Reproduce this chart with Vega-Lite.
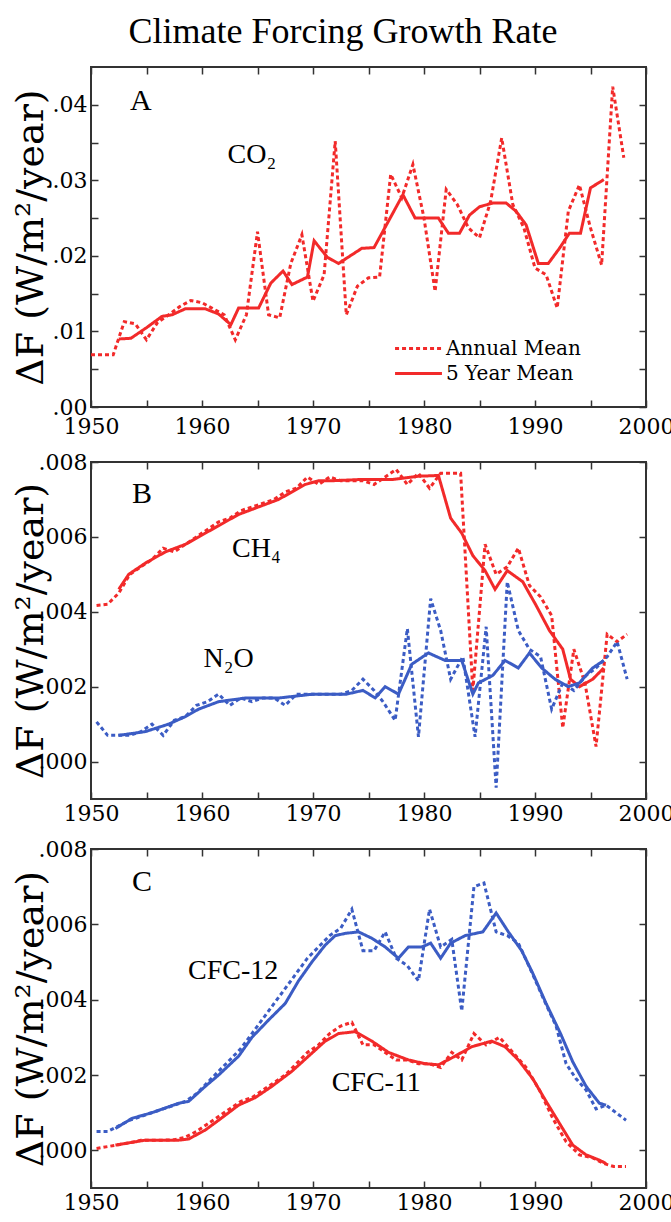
{
  "$schema": "https://vega.github.io/schema/vega-lite/v6.json",
  "background": "white",
  "padding": {"left": 11, "top": 14, "right": 0, "bottom": 0},
  "title": {"text": "Climate Forcing Growth Rate", "font": "Liberation Serif", "fontSize": 36, "fontWeight": "normal", "anchor": "middle", "frame": "bounds", "offset": 14, "color": "black"},
  "config": {
    "view": {"stroke": "#333333", "strokeWidth": 2},
    "axis": {"domain": false, "grid": false, "tickSize": -7, "tickColor": "#333333", "tickWidth": 1.5, "labelFontSize": 22, "labelColor": "black", "labelFlush": false, "labelOverlap": false, "titleFontSize": 38, "titleFontWeight": "normal", "titleColor": "black"},
    "concat": {"spacing": 12}
  },
  "datasets": {
    "series": [
      {"panel":"A","gas":"CO2","kind":"Annual Mean","year":1950,"value":0.0069},
      {"panel":"A","gas":"CO2","kind":"Annual Mean","year":1951,"value":0.0069},
      {"panel":"A","gas":"CO2","kind":"Annual Mean","year":1952,"value":0.0069},
      {"panel":"A","gas":"CO2","kind":"Annual Mean","year":1953,"value":0.0113},
      {"panel":"A","gas":"CO2","kind":"Annual Mean","year":1954,"value":0.0110},
      {"panel":"A","gas":"CO2","kind":"Annual Mean","year":1955,"value":0.0089},
      {"panel":"A","gas":"CO2","kind":"Annual Mean","year":1956,"value":0.0112},
      {"panel":"A","gas":"CO2","kind":"Annual Mean","year":1957,"value":0.0122},
      {"panel":"A","gas":"CO2","kind":"Annual Mean","year":1958,"value":0.0133},
      {"panel":"A","gas":"CO2","kind":"Annual Mean","year":1959,"value":0.0141},
      {"panel":"A","gas":"CO2","kind":"Annual Mean","year":1960,"value":0.0138},
      {"panel":"A","gas":"CO2","kind":"Annual Mean","year":1961,"value":0.0130},
      {"panel":"A","gas":"CO2","kind":"Annual Mean","year":1962,"value":0.0122},
      {"panel":"A","gas":"CO2","kind":"Annual Mean","year":1963,"value":0.0089},
      {"panel":"A","gas":"CO2","kind":"Annual Mean","year":1964,"value":0.0122},
      {"panel":"A","gas":"CO2","kind":"Annual Mean","year":1965,"value":0.0232},
      {"panel":"A","gas":"CO2","kind":"Annual Mean","year":1966,"value":0.0122},
      {"panel":"A","gas":"CO2","kind":"Annual Mean","year":1967,"value":0.0118},
      {"panel":"A","gas":"CO2","kind":"Annual Mean","year":1968,"value":0.0190},
      {"panel":"A","gas":"CO2","kind":"Annual Mean","year":1969,"value":0.0228},
      {"panel":"A","gas":"CO2","kind":"Annual Mean","year":1970,"value":0.0140},
      {"panel":"A","gas":"CO2","kind":"Annual Mean","year":1971,"value":0.0175},
      {"panel":"A","gas":"CO2","kind":"Annual Mean","year":1972,"value":0.0352},
      {"panel":"A","gas":"CO2","kind":"Annual Mean","year":1973,"value":0.0122},
      {"panel":"A","gas":"CO2","kind":"Annual Mean","year":1974,"value":0.0160},
      {"panel":"A","gas":"CO2","kind":"Annual Mean","year":1975,"value":0.0171},
      {"panel":"A","gas":"CO2","kind":"Annual Mean","year":1976,"value":0.0172},
      {"panel":"A","gas":"CO2","kind":"Annual Mean","year":1977,"value":0.0308},
      {"panel":"A","gas":"CO2","kind":"Annual Mean","year":1978,"value":0.0277},
      {"panel":"A","gas":"CO2","kind":"Annual Mean","year":1979,"value":0.0321},
      {"panel":"A","gas":"CO2","kind":"Annual Mean","year":1980,"value":0.0250},
      {"panel":"A","gas":"CO2","kind":"Annual Mean","year":1981,"value":0.0153},
      {"panel":"A","gas":"CO2","kind":"Annual Mean","year":1982,"value":0.0288},
      {"panel":"A","gas":"CO2","kind":"Annual Mean","year":1983,"value":0.0268},
      {"panel":"A","gas":"CO2","kind":"Annual Mean","year":1984,"value":0.0237},
      {"panel":"A","gas":"CO2","kind":"Annual Mean","year":1985,"value":0.0224},
      {"panel":"A","gas":"CO2","kind":"Annual Mean","year":1986,"value":0.0272},
      {"panel":"A","gas":"CO2","kind":"Annual Mean","year":1987,"value":0.0356},
      {"panel":"A","gas":"CO2","kind":"Annual Mean","year":1988,"value":0.0268},
      {"panel":"A","gas":"CO2","kind":"Annual Mean","year":1989,"value":0.0237},
      {"panel":"A","gas":"CO2","kind":"Annual Mean","year":1990,"value":0.0184},
      {"panel":"A","gas":"CO2","kind":"Annual Mean","year":1991,"value":0.0175},
      {"panel":"A","gas":"CO2","kind":"Annual Mean","year":1992,"value":0.0131},
      {"panel":"A","gas":"CO2","kind":"Annual Mean","year":1993,"value":0.0259},
      {"panel":"A","gas":"CO2","kind":"Annual Mean","year":1994,"value":0.0294},
      {"panel":"A","gas":"CO2","kind":"Annual Mean","year":1995,"value":0.0237},
      {"panel":"A","gas":"CO2","kind":"Annual Mean","year":1996,"value":0.0188},
      {"panel":"A","gas":"CO2","kind":"Annual Mean","year":1997,"value":0.0424},
      {"panel":"A","gas":"CO2","kind":"Annual Mean","year":1998,"value":0.0330},
      {"panel":"A","gas":"CO2","kind":"5 Year Mean","year":1952.5,"value":0.0090},
      {"panel":"A","gas":"CO2","kind":"5 Year Mean","year":1953.6,"value":0.0091},
      {"panel":"A","gas":"CO2","kind":"5 Year Mean","year":1955,"value":0.0105},
      {"panel":"A","gas":"CO2","kind":"5 Year Mean","year":1956.4,"value":0.0120},
      {"panel":"A","gas":"CO2","kind":"5 Year Mean","year":1957.3,"value":0.0122},
      {"panel":"A","gas":"CO2","kind":"5 Year Mean","year":1958.5,"value":0.0130},
      {"panel":"A","gas":"CO2","kind":"5 Year Mean","year":1960.3,"value":0.0130},
      {"panel":"A","gas":"CO2","kind":"5 Year Mean","year":1961.5,"value":0.0123},
      {"panel":"A","gas":"CO2","kind":"5 Year Mean","year":1962.6,"value":0.0109},
      {"panel":"A","gas":"CO2","kind":"5 Year Mean","year":1963.3,"value":0.0131},
      {"panel":"A","gas":"CO2","kind":"5 Year Mean","year":1965.1,"value":0.0131},
      {"panel":"A","gas":"CO2","kind":"5 Year Mean","year":1966.2,"value":0.0164},
      {"panel":"A","gas":"CO2","kind":"5 Year Mean","year":1967.3,"value":0.0180},
      {"panel":"A","gas":"CO2","kind":"5 Year Mean","year":1968.1,"value":0.0162},
      {"panel":"A","gas":"CO2","kind":"5 Year Mean","year":1969.5,"value":0.0172},
      {"panel":"A","gas":"CO2","kind":"5 Year Mean","year":1970.1,"value":0.0220},
      {"panel":"A","gas":"CO2","kind":"5 Year Mean","year":1971.3,"value":0.0198},
      {"panel":"A","gas":"CO2","kind":"5 Year Mean","year":1972.3,"value":0.0190},
      {"panel":"A","gas":"CO2","kind":"5 Year Mean","year":1974.4,"value":0.0210},
      {"panel":"A","gas":"CO2","kind":"5 Year Mean","year":1975.5,"value":0.0211},
      {"panel":"A","gas":"CO2","kind":"5 Year Mean","year":1978.1,"value":0.0281},
      {"panel":"A","gas":"CO2","kind":"5 Year Mean","year":1979.2,"value":0.0250},
      {"panel":"A","gas":"CO2","kind":"5 Year Mean","year":1981.3,"value":0.0250},
      {"panel":"A","gas":"CO2","kind":"5 Year Mean","year":1982.2,"value":0.0230},
      {"panel":"A","gas":"CO2","kind":"5 Year Mean","year":1983.2,"value":0.0230},
      {"panel":"A","gas":"CO2","kind":"5 Year Mean","year":1984.1,"value":0.0254},
      {"panel":"A","gas":"CO2","kind":"5 Year Mean","year":1985,"value":0.0265},
      {"panel":"A","gas":"CO2","kind":"5 Year Mean","year":1986.2,"value":0.0270},
      {"panel":"A","gas":"CO2","kind":"5 Year Mean","year":1987.4,"value":0.0270},
      {"panel":"A","gas":"CO2","kind":"5 Year Mean","year":1988.3,"value":0.0259},
      {"panel":"A","gas":"CO2","kind":"5 Year Mean","year":1989.2,"value":0.0241},
      {"panel":"A","gas":"CO2","kind":"5 Year Mean","year":1990.3,"value":0.0190},
      {"panel":"A","gas":"CO2","kind":"5 Year Mean","year":1991.2,"value":0.0190},
      {"panel":"A","gas":"CO2","kind":"5 Year Mean","year":1992.2,"value":0.0210},
      {"panel":"A","gas":"CO2","kind":"5 Year Mean","year":1993.1,"value":0.0230},
      {"panel":"A","gas":"CO2","kind":"5 Year Mean","year":1994.1,"value":0.0230},
      {"panel":"A","gas":"CO2","kind":"5 Year Mean","year":1995,"value":0.0290},
      {"panel":"A","gas":"CO2","kind":"5 Year Mean","year":1996.2,"value":0.0301},

      {"panel":"B","gas":"CH4","kind":"Annual Mean","year":1950.5,"value":0.00417},
      {"panel":"B","gas":"CH4","kind":"Annual Mean","year":1951.5,"value":0.0042},
      {"panel":"B","gas":"CH4","kind":"Annual Mean","year":1952.5,"value":0.0045},
      {"panel":"B","gas":"CH4","kind":"Annual Mean","year":1953.5,"value":0.0050},
      {"panel":"B","gas":"CH4","kind":"Annual Mean","year":1954.5,"value":0.0052},
      {"panel":"B","gas":"CH4","kind":"Annual Mean","year":1955.5,"value":0.0054},
      {"panel":"B","gas":"CH4","kind":"Annual Mean","year":1956.5,"value":0.0057},
      {"panel":"B","gas":"CH4","kind":"Annual Mean","year":1957.5,"value":0.0056},
      {"panel":"B","gas":"CH4","kind":"Annual Mean","year":1958.5,"value":0.0058},
      {"panel":"B","gas":"CH4","kind":"Annual Mean","year":1959.5,"value":0.0060},
      {"panel":"B","gas":"CH4","kind":"Annual Mean","year":1960.5,"value":0.0062},
      {"panel":"B","gas":"CH4","kind":"Annual Mean","year":1961.5,"value":0.0064},
      {"panel":"B","gas":"CH4","kind":"Annual Mean","year":1962.5,"value":0.0065},
      {"panel":"B","gas":"CH4","kind":"Annual Mean","year":1963.5,"value":0.0067},
      {"panel":"B","gas":"CH4","kind":"Annual Mean","year":1964.5,"value":0.0068},
      {"panel":"B","gas":"CH4","kind":"Annual Mean","year":1965.5,"value":0.0069},
      {"panel":"B","gas":"CH4","kind":"Annual Mean","year":1966.5,"value":0.0070},
      {"panel":"B","gas":"CH4","kind":"Annual Mean","year":1967.5,"value":0.0072},
      {"panel":"B","gas":"CH4","kind":"Annual Mean","year":1968.5,"value":0.0073},
      {"panel":"B","gas":"CH4","kind":"Annual Mean","year":1969.5,"value":0.0076},
      {"panel":"B","gas":"CH4","kind":"Annual Mean","year":1970.5,"value":0.0074},
      {"panel":"B","gas":"CH4","kind":"Annual Mean","year":1971.5,"value":0.0076},
      {"panel":"B","gas":"CH4","kind":"Annual Mean","year":1972.5,"value":0.0075},
      {"panel":"B","gas":"CH4","kind":"Annual Mean","year":1973.5,"value":0.0075},
      {"panel":"B","gas":"CH4","kind":"Annual Mean","year":1974.5,"value":0.0075},
      {"panel":"B","gas":"CH4","kind":"Annual Mean","year":1975.5,"value":0.0074},
      {"panel":"B","gas":"CH4","kind":"Annual Mean","year":1976.5,"value":0.0076},
      {"panel":"B","gas":"CH4","kind":"Annual Mean","year":1977.5,"value":0.0078},
      {"panel":"B","gas":"CH4","kind":"Annual Mean","year":1978.5,"value":0.0074},
      {"panel":"B","gas":"CH4","kind":"Annual Mean","year":1979.5,"value":0.0077},
      {"panel":"B","gas":"CH4","kind":"Annual Mean","year":1980.5,"value":0.0073},
      {"panel":"B","gas":"CH4","kind":"Annual Mean","year":1981.5,"value":0.0077},
      {"panel":"B","gas":"CH4","kind":"Annual Mean","year":1982.5,"value":0.0077},
      {"panel":"B","gas":"CH4","kind":"Annual Mean","year":1983.3,"value":0.0077},
      {"panel":"B","gas":"CH4","kind":"Annual Mean","year":1984.4,"value":0.0019},
      {"panel":"B","gas":"CH4","kind":"Annual Mean","year":1985.5,"value":0.0058},
      {"panel":"B","gas":"CH4","kind":"Annual Mean","year":1986.5,"value":0.0050},
      {"panel":"B","gas":"CH4","kind":"Annual Mean","year":1987.5,"value":0.0052},
      {"panel":"B","gas":"CH4","kind":"Annual Mean","year":1988.5,"value":0.0057},
      {"panel":"B","gas":"CH4","kind":"Annual Mean","year":1989.5,"value":0.0047},
      {"panel":"B","gas":"CH4","kind":"Annual Mean","year":1990.5,"value":0.0044},
      {"panel":"B","gas":"CH4","kind":"Annual Mean","year":1991.5,"value":0.0039},
      {"panel":"B","gas":"CH4","kind":"Annual Mean","year":1992.5,"value":0.0009},
      {"panel":"B","gas":"CH4","kind":"Annual Mean","year":1993.5,"value":0.0030},
      {"panel":"B","gas":"CH4","kind":"Annual Mean","year":1994.5,"value":0.0021},
      {"panel":"B","gas":"CH4","kind":"Annual Mean","year":1995.5,"value":0.0004},
      {"panel":"B","gas":"CH4","kind":"Annual Mean","year":1996.5,"value":0.0034},
      {"panel":"B","gas":"CH4","kind":"Annual Mean","year":1997.4,"value":0.0032},
      {"panel":"B","gas":"CH4","kind":"Annual Mean","year":1998.3,"value":0.0034},
      {"panel":"B","gas":"CH4","kind":"5 Year Mean","year":1952.5,"value":0.0046},
      {"panel":"B","gas":"CH4","kind":"5 Year Mean","year":1953.4,"value":0.0050},
      {"panel":"B","gas":"CH4","kind":"5 Year Mean","year":1954.9,"value":0.0053},
      {"panel":"B","gas":"CH4","kind":"5 Year Mean","year":1956.7,"value":0.0056},
      {"panel":"B","gas":"CH4","kind":"5 Year Mean","year":1958.5,"value":0.0058},
      {"panel":"B","gas":"CH4","kind":"5 Year Mean","year":1959.7,"value":0.0060},
      {"panel":"B","gas":"CH4","kind":"5 Year Mean","year":1961.5,"value":0.0063},
      {"panel":"B","gas":"CH4","kind":"5 Year Mean","year":1963.3,"value":0.0066},
      {"panel":"B","gas":"CH4","kind":"5 Year Mean","year":1965.1,"value":0.0068},
      {"panel":"B","gas":"CH4","kind":"5 Year Mean","year":1966.9,"value":0.0070},
      {"panel":"B","gas":"CH4","kind":"5 Year Mean","year":1968.1,"value":0.0072},
      {"panel":"B","gas":"CH4","kind":"5 Year Mean","year":1969.3,"value":0.0074},
      {"panel":"B","gas":"CH4","kind":"5 Year Mean","year":1970.5,"value":0.0075},
      {"panel":"B","gas":"CH4","kind":"5 Year Mean","year":1971.7,"value":0.0075},
      {"panel":"B","gas":"CH4","kind":"5 Year Mean","year":1974.1,"value":0.00753},
      {"panel":"B","gas":"CH4","kind":"5 Year Mean","year":1977.1,"value":0.00753},
      {"panel":"B","gas":"CH4","kind":"5 Year Mean","year":1979.5,"value":0.00762},
      {"panel":"B","gas":"CH4","kind":"5 Year Mean","year":1981.3,"value":0.00764},
      {"panel":"B","gas":"CH4","kind":"5 Year Mean","year":1982.4,"value":0.0065},
      {"panel":"B","gas":"CH4","kind":"5 Year Mean","year":1983.4,"value":0.0061},
      {"panel":"B","gas":"CH4","kind":"5 Year Mean","year":1984.4,"value":0.0055},
      {"panel":"B","gas":"CH4","kind":"5 Year Mean","year":1985.5,"value":0.0051},
      {"panel":"B","gas":"CH4","kind":"5 Year Mean","year":1986.4,"value":0.0046},
      {"panel":"B","gas":"CH4","kind":"5 Year Mean","year":1987.5,"value":0.0051},
      {"panel":"B","gas":"CH4","kind":"5 Year Mean","year":1988.9,"value":0.0048},
      {"panel":"B","gas":"CH4","kind":"5 Year Mean","year":1990.1,"value":0.00417},
      {"panel":"B","gas":"CH4","kind":"5 Year Mean","year":1991.3,"value":0.0035},
      {"panel":"B","gas":"CH4","kind":"5 Year Mean","year":1992.5,"value":0.0030},
      {"panel":"B","gas":"CH4","kind":"5 Year Mean","year":1993.2,"value":0.0022},
      {"panel":"B","gas":"CH4","kind":"5 Year Mean","year":1994.0,"value":0.0020},
      {"panel":"B","gas":"CH4","kind":"5 Year Mean","year":1995.2,"value":0.0022},
      {"panel":"B","gas":"CH4","kind":"5 Year Mean","year":1996.2,"value":0.0025},

      {"panel":"B","gas":"N2O","kind":"Annual Mean","year":1950.5,"value":0.00106},
      {"panel":"B","gas":"N2O","kind":"Annual Mean","year":1951.5,"value":0.0007},
      {"panel":"B","gas":"N2O","kind":"Annual Mean","year":1952.5,"value":0.0007},
      {"panel":"B","gas":"N2O","kind":"Annual Mean","year":1953.5,"value":0.0007},
      {"panel":"B","gas":"N2O","kind":"Annual Mean","year":1954.5,"value":0.0008},
      {"panel":"B","gas":"N2O","kind":"Annual Mean","year":1955.5,"value":0.0010},
      {"panel":"B","gas":"N2O","kind":"Annual Mean","year":1956.5,"value":0.0007},
      {"panel":"B","gas":"N2O","kind":"Annual Mean","year":1957.5,"value":0.0011},
      {"panel":"B","gas":"N2O","kind":"Annual Mean","year":1958.5,"value":0.0012},
      {"panel":"B","gas":"N2O","kind":"Annual Mean","year":1959.5,"value":0.0015},
      {"panel":"B","gas":"N2O","kind":"Annual Mean","year":1960.5,"value":0.0016},
      {"panel":"B","gas":"N2O","kind":"Annual Mean","year":1961.5,"value":0.0018},
      {"panel":"B","gas":"N2O","kind":"Annual Mean","year":1962.5,"value":0.0015},
      {"panel":"B","gas":"N2O","kind":"Annual Mean","year":1963.5,"value":0.0017},
      {"panel":"B","gas":"N2O","kind":"Annual Mean","year":1964.5,"value":0.0016},
      {"panel":"B","gas":"N2O","kind":"Annual Mean","year":1965.5,"value":0.0017},
      {"panel":"B","gas":"N2O","kind":"Annual Mean","year":1966.5,"value":0.0017},
      {"panel":"B","gas":"N2O","kind":"Annual Mean","year":1967.5,"value":0.0015},
      {"panel":"B","gas":"N2O","kind":"Annual Mean","year":1968.5,"value":0.0018},
      {"panel":"B","gas":"N2O","kind":"Annual Mean","year":1969.5,"value":0.0018},
      {"panel":"B","gas":"N2O","kind":"Annual Mean","year":1970.5,"value":0.0018},
      {"panel":"B","gas":"N2O","kind":"Annual Mean","year":1971.5,"value":0.0018},
      {"panel":"B","gas":"N2O","kind":"Annual Mean","year":1972.5,"value":0.0018},
      {"panel":"B","gas":"N2O","kind":"Annual Mean","year":1973.5,"value":0.0019},
      {"panel":"B","gas":"N2O","kind":"Annual Mean","year":1974.5,"value":0.0022},
      {"panel":"B","gas":"N2O","kind":"Annual Mean","year":1975.5,"value":0.0019},
      {"panel":"B","gas":"N2O","kind":"Annual Mean","year":1976.3,"value":0.0016},
      {"panel":"B","gas":"N2O","kind":"Annual Mean","year":1977.4,"value":0.0011},
      {"panel":"B","gas":"N2O","kind":"Annual Mean","year":1978.5,"value":0.00355},
      {"panel":"B","gas":"N2O","kind":"Annual Mean","year":1979.5,"value":0.00066},
      {"panel":"B","gas":"N2O","kind":"Annual Mean","year":1980.6,"value":0.00435},
      {"panel":"B","gas":"N2O","kind":"Annual Mean","year":1981.5,"value":0.0035},
      {"panel":"B","gas":"N2O","kind":"Annual Mean","year":1982.4,"value":0.0022},
      {"panel":"B","gas":"N2O","kind":"Annual Mean","year":1983.5,"value":0.0028},
      {"panel":"B","gas":"N2O","kind":"Annual Mean","year":1984.6,"value":0.00066},
      {"panel":"B","gas":"N2O","kind":"Annual Mean","year":1985.6,"value":0.0036},
      {"panel":"B","gas":"N2O","kind":"Annual Mean","year":1986.5,"value":-0.0007},
      {"panel":"B","gas":"N2O","kind":"Annual Mean","year":1987.5,"value":0.0048},
      {"panel":"B","gas":"N2O","kind":"Annual Mean","year":1988.5,"value":0.0035},
      {"panel":"B","gas":"N2O","kind":"Annual Mean","year":1989.5,"value":0.0030},
      {"panel":"B","gas":"N2O","kind":"Annual Mean","year":1990.5,"value":0.0028},
      {"panel":"B","gas":"N2O","kind":"Annual Mean","year":1991.5,"value":0.0014},
      {"panel":"B","gas":"N2O","kind":"Annual Mean","year":1992.5,"value":0.0021},
      {"panel":"B","gas":"N2O","kind":"Annual Mean","year":1993.5,"value":0.0019},
      {"panel":"B","gas":"N2O","kind":"Annual Mean","year":1994.6,"value":0.0023},
      {"panel":"B","gas":"N2O","kind":"Annual Mean","year":1995.5,"value":0.0025},
      {"panel":"B","gas":"N2O","kind":"Annual Mean","year":1996.5,"value":0.0028},
      {"panel":"B","gas":"N2O","kind":"Annual Mean","year":1997.4,"value":0.0032},
      {"panel":"B","gas":"N2O","kind":"Annual Mean","year":1998.3,"value":0.0022},
      {"panel":"B","gas":"N2O","kind":"5 Year Mean","year":1952.5,"value":0.0007},
      {"panel":"B","gas":"N2O","kind":"5 Year Mean","year":1954.9,"value":0.0008},
      {"panel":"B","gas":"N2O","kind":"5 Year Mean","year":1957.0,"value":0.0010},
      {"panel":"B","gas":"N2O","kind":"5 Year Mean","year":1958.5,"value":0.0012},
      {"panel":"B","gas":"N2O","kind":"5 Year Mean","year":1959.7,"value":0.0014},
      {"panel":"B","gas":"N2O","kind":"5 Year Mean","year":1961.5,"value":0.0016},
      {"panel":"B","gas":"N2O","kind":"5 Year Mean","year":1964.0,"value":0.0017},
      {"panel":"B","gas":"N2O","kind":"5 Year Mean","year":1967.0,"value":0.0017},
      {"panel":"B","gas":"N2O","kind":"5 Year Mean","year":1970.0,"value":0.0018},
      {"panel":"B","gas":"N2O","kind":"5 Year Mean","year":1973.0,"value":0.0018},
      {"panel":"B","gas":"N2O","kind":"5 Year Mean","year":1974.5,"value":0.0019},
      {"panel":"B","gas":"N2O","kind":"5 Year Mean","year":1975.6,"value":0.0017},
      {"panel":"B","gas":"N2O","kind":"5 Year Mean","year":1976.5,"value":0.0020},
      {"panel":"B","gas":"N2O","kind":"5 Year Mean","year":1977.7,"value":0.0018},
      {"panel":"B","gas":"N2O","kind":"5 Year Mean","year":1978.9,"value":0.0026},
      {"panel":"B","gas":"N2O","kind":"5 Year Mean","year":1980.4,"value":0.0029},
      {"panel":"B","gas":"N2O","kind":"5 Year Mean","year":1981.9,"value":0.0027},
      {"panel":"B","gas":"N2O","kind":"5 Year Mean","year":1983.4,"value":0.0027},
      {"panel":"B","gas":"N2O","kind":"5 Year Mean","year":1984.4,"value":0.0018},
      {"panel":"B","gas":"N2O","kind":"5 Year Mean","year":1984.9,"value":0.0021},
      {"panel":"B","gas":"N2O","kind":"5 Year Mean","year":1986.2,"value":0.0023},
      {"panel":"B","gas":"N2O","kind":"5 Year Mean","year":1987.3,"value":0.0027},
      {"panel":"B","gas":"N2O","kind":"5 Year Mean","year":1988.5,"value":0.0025},
      {"panel":"B","gas":"N2O","kind":"5 Year Mean","year":1989.5,"value":0.0029},
      {"panel":"B","gas":"N2O","kind":"5 Year Mean","year":1990.6,"value":0.0025},
      {"panel":"B","gas":"N2O","kind":"5 Year Mean","year":1991.8,"value":0.0022},
      {"panel":"B","gas":"N2O","kind":"5 Year Mean","year":1993.0,"value":0.0020},
      {"panel":"B","gas":"N2O","kind":"5 Year Mean","year":1994.0,"value":0.0021},
      {"panel":"B","gas":"N2O","kind":"5 Year Mean","year":1995.2,"value":0.0025},
      {"panel":"B","gas":"N2O","kind":"5 Year Mean","year":1996.2,"value":0.0027},

      {"panel":"C","gas":"CFC-12","kind":"Annual Mean","year":1950.5,"value":0.0005},
      {"panel":"C","gas":"CFC-12","kind":"Annual Mean","year":1951.5,"value":0.0005},
      {"panel":"C","gas":"CFC-12","kind":"Annual Mean","year":1952.5,"value":0.00065},
      {"panel":"C","gas":"CFC-12","kind":"Annual Mean","year":1953.5,"value":0.0008},
      {"panel":"C","gas":"CFC-12","kind":"Annual Mean","year":1954.5,"value":0.0009},
      {"panel":"C","gas":"CFC-12","kind":"Annual Mean","year":1955.5,"value":0.0010},
      {"panel":"C","gas":"CFC-12","kind":"Annual Mean","year":1956.5,"value":0.0011},
      {"panel":"C","gas":"CFC-12","kind":"Annual Mean","year":1957.5,"value":0.0012},
      {"panel":"C","gas":"CFC-12","kind":"Annual Mean","year":1958.5,"value":0.0013},
      {"panel":"C","gas":"CFC-12","kind":"Annual Mean","year":1959.5,"value":0.0015},
      {"panel":"C","gas":"CFC-12","kind":"Annual Mean","year":1960.5,"value":0.0018},
      {"panel":"C","gas":"CFC-12","kind":"Annual Mean","year":1961.5,"value":0.0021},
      {"panel":"C","gas":"CFC-12","kind":"Annual Mean","year":1962.5,"value":0.0024},
      {"panel":"C","gas":"CFC-12","kind":"Annual Mean","year":1963.5,"value":0.0027},
      {"panel":"C","gas":"CFC-12","kind":"Annual Mean","year":1964.5,"value":0.0031},
      {"panel":"C","gas":"CFC-12","kind":"Annual Mean","year":1965.5,"value":0.0035},
      {"panel":"C","gas":"CFC-12","kind":"Annual Mean","year":1966.5,"value":0.0039},
      {"panel":"C","gas":"CFC-12","kind":"Annual Mean","year":1967.5,"value":0.0043},
      {"panel":"C","gas":"CFC-12","kind":"Annual Mean","year":1968.5,"value":0.0047},
      {"panel":"C","gas":"CFC-12","kind":"Annual Mean","year":1969.5,"value":0.0051},
      {"panel":"C","gas":"CFC-12","kind":"Annual Mean","year":1970.5,"value":0.0054},
      {"panel":"C","gas":"CFC-12","kind":"Annual Mean","year":1971.5,"value":0.0057},
      {"panel":"C","gas":"CFC-12","kind":"Annual Mean","year":1972.5,"value":0.0059},
      {"panel":"C","gas":"CFC-12","kind":"Annual Mean","year":1973.5,"value":0.0064},
      {"panel":"C","gas":"CFC-12","kind":"Annual Mean","year":1974.5,"value":0.0053},
      {"panel":"C","gas":"CFC-12","kind":"Annual Mean","year":1975.5,"value":0.0053},
      {"panel":"C","gas":"CFC-12","kind":"Annual Mean","year":1976.5,"value":0.0058},
      {"panel":"C","gas":"CFC-12","kind":"Annual Mean","year":1977.5,"value":0.0051},
      {"panel":"C","gas":"CFC-12","kind":"Annual Mean","year":1978.5,"value":0.0049},
      {"panel":"C","gas":"CFC-12","kind":"Annual Mean","year":1979.5,"value":0.0045},
      {"panel":"C","gas":"CFC-12","kind":"Annual Mean","year":1980.5,"value":0.0064},
      {"panel":"C","gas":"CFC-12","kind":"Annual Mean","year":1981.5,"value":0.0054},
      {"panel":"C","gas":"CFC-12","kind":"Annual Mean","year":1982.5,"value":0.0056},
      {"panel":"C","gas":"CFC-12","kind":"Annual Mean","year":1983.4,"value":0.0037},
      {"panel":"C","gas":"CFC-12","kind":"Annual Mean","year":1984.5,"value":0.0070},
      {"panel":"C","gas":"CFC-12","kind":"Annual Mean","year":1985.4,"value":0.0071},
      {"panel":"C","gas":"CFC-12","kind":"Annual Mean","year":1986.5,"value":0.0058},
      {"panel":"C","gas":"CFC-12","kind":"Annual Mean","year":1987.5,"value":0.0057},
      {"panel":"C","gas":"CFC-12","kind":"Annual Mean","year":1988.5,"value":0.0055},
      {"panel":"C","gas":"CFC-12","kind":"Annual Mean","year":1989.6,"value":0.0048},
      {"panel":"C","gas":"CFC-12","kind":"Annual Mean","year":1990.8,"value":0.0040},
      {"panel":"C","gas":"CFC-12","kind":"Annual Mean","year":1991.9,"value":0.0033},
      {"panel":"C","gas":"CFC-12","kind":"Annual Mean","year":1992.8,"value":0.0023},
      {"panel":"C","gas":"CFC-12","kind":"Annual Mean","year":1993.7,"value":0.0019},
      {"panel":"C","gas":"CFC-12","kind":"Annual Mean","year":1994.6,"value":0.0016},
      {"panel":"C","gas":"CFC-12","kind":"Annual Mean","year":1995.5,"value":0.0011},
      {"panel":"C","gas":"CFC-12","kind":"Annual Mean","year":1996.4,"value":0.0012},
      {"panel":"C","gas":"CFC-12","kind":"Annual Mean","year":1997.3,"value":0.0010},
      {"panel":"C","gas":"CFC-12","kind":"Annual Mean","year":1998.2,"value":0.0008},
      {"panel":"C","gas":"CFC-12","kind":"5 Year Mean","year":1952.2,"value":0.00058},
      {"panel":"C","gas":"CFC-12","kind":"5 Year Mean","year":1953.7,"value":0.00085},
      {"panel":"C","gas":"CFC-12","kind":"5 Year Mean","year":1955.5,"value":0.0010},
      {"panel":"C","gas":"CFC-12","kind":"5 Year Mean","year":1957.9,"value":0.00125},
      {"panel":"C","gas":"CFC-12","kind":"5 Year Mean","year":1958.8,"value":0.0013},
      {"panel":"C","gas":"CFC-12","kind":"5 Year Mean","year":1960.3,"value":0.0017},
      {"panel":"C","gas":"CFC-12","kind":"5 Year Mean","year":1961.5,"value":0.0020},
      {"panel":"C","gas":"CFC-12","kind":"5 Year Mean","year":1963.3,"value":0.0025},
      {"panel":"C","gas":"CFC-12","kind":"5 Year Mean","year":1964.5,"value":0.0030},
      {"panel":"C","gas":"CFC-12","kind":"5 Year Mean","year":1966.0,"value":0.00346},
      {"panel":"C","gas":"CFC-12","kind":"5 Year Mean","year":1967.5,"value":0.0039},
      {"panel":"C","gas":"CFC-12","kind":"5 Year Mean","year":1968.7,"value":0.0045},
      {"panel":"C","gas":"CFC-12","kind":"5 Year Mean","year":1969.9,"value":0.0050},
      {"panel":"C","gas":"CFC-12","kind":"5 Year Mean","year":1971.1,"value":0.00545},
      {"panel":"C","gas":"CFC-12","kind":"5 Year Mean","year":1972.0,"value":0.0057},
      {"panel":"C","gas":"CFC-12","kind":"5 Year Mean","year":1972.9,"value":0.00576},
      {"panel":"C","gas":"CFC-12","kind":"5 Year Mean","year":1974.1,"value":0.0058},
      {"panel":"C","gas":"CFC-12","kind":"5 Year Mean","year":1975.3,"value":0.00563},
      {"panel":"C","gas":"CFC-12","kind":"5 Year Mean","year":1976.5,"value":0.0054},
      {"panel":"C","gas":"CFC-12","kind":"5 Year Mean","year":1977.7,"value":0.0051},
      {"panel":"C","gas":"CFC-12","kind":"5 Year Mean","year":1978.6,"value":0.0054},
      {"panel":"C","gas":"CFC-12","kind":"5 Year Mean","year":1979.8,"value":0.0054},
      {"panel":"C","gas":"CFC-12","kind":"5 Year Mean","year":1980.6,"value":0.0055},
      {"panel":"C","gas":"CFC-12","kind":"5 Year Mean","year":1981.5,"value":0.0051},
      {"panel":"C","gas":"CFC-12","kind":"5 Year Mean","year":1982.4,"value":0.0055},
      {"panel":"C","gas":"CFC-12","kind":"5 Year Mean","year":1983.7,"value":0.0057},
      {"panel":"C","gas":"CFC-12","kind":"5 Year Mean","year":1985.3,"value":0.0058},
      {"panel":"C","gas":"CFC-12","kind":"5 Year Mean","year":1986.5,"value":0.0063},
      {"panel":"C","gas":"CFC-12","kind":"5 Year Mean","year":1987.6,"value":0.0058},
      {"panel":"C","gas":"CFC-12","kind":"5 Year Mean","year":1988.8,"value":0.0053},
      {"panel":"C","gas":"CFC-12","kind":"5 Year Mean","year":1989.8,"value":0.0047},
      {"panel":"C","gas":"CFC-12","kind":"5 Year Mean","year":1991.0,"value":0.0039},
      {"panel":"C","gas":"CFC-12","kind":"5 Year Mean","year":1992.3,"value":0.0031},
      {"panel":"C","gas":"CFC-12","kind":"5 Year Mean","year":1993.4,"value":0.00235},
      {"panel":"C","gas":"CFC-12","kind":"5 Year Mean","year":1994.6,"value":0.0017},
      {"panel":"C","gas":"CFC-12","kind":"5 Year Mean","year":1995.8,"value":0.00125},
      {"panel":"C","gas":"CFC-12","kind":"5 Year Mean","year":1996.4,"value":0.0012},

      {"panel":"C","gas":"CFC-11","kind":"Annual Mean","year":1950.5,"value":0.00005},
      {"panel":"C","gas":"CFC-11","kind":"Annual Mean","year":1951.5,"value":0.0001},
      {"panel":"C","gas":"CFC-11","kind":"Annual Mean","year":1952.5,"value":0.00015},
      {"panel":"C","gas":"CFC-11","kind":"Annual Mean","year":1953.5,"value":0.0002},
      {"panel":"C","gas":"CFC-11","kind":"Annual Mean","year":1954.5,"value":0.00027},
      {"panel":"C","gas":"CFC-11","kind":"Annual Mean","year":1955.5,"value":0.00027},
      {"panel":"C","gas":"CFC-11","kind":"Annual Mean","year":1956.5,"value":0.00027},
      {"panel":"C","gas":"CFC-11","kind":"Annual Mean","year":1957.5,"value":0.00028},
      {"panel":"C","gas":"CFC-11","kind":"Annual Mean","year":1958.5,"value":0.00035},
      {"panel":"C","gas":"CFC-11","kind":"Annual Mean","year":1959.5,"value":0.0005},
      {"panel":"C","gas":"CFC-11","kind":"Annual Mean","year":1960.5,"value":0.0007},
      {"panel":"C","gas":"CFC-11","kind":"Annual Mean","year":1961.5,"value":0.0009},
      {"panel":"C","gas":"CFC-11","kind":"Annual Mean","year":1962.5,"value":0.0011},
      {"panel":"C","gas":"CFC-11","kind":"Annual Mean","year":1963.5,"value":0.0013},
      {"panel":"C","gas":"CFC-11","kind":"Annual Mean","year":1964.5,"value":0.0014},
      {"panel":"C","gas":"CFC-11","kind":"Annual Mean","year":1965.5,"value":0.0016},
      {"panel":"C","gas":"CFC-11","kind":"Annual Mean","year":1966.5,"value":0.0018},
      {"panel":"C","gas":"CFC-11","kind":"Annual Mean","year":1967.5,"value":0.0020},
      {"panel":"C","gas":"CFC-11","kind":"Annual Mean","year":1968.5,"value":0.0023},
      {"panel":"C","gas":"CFC-11","kind":"Annual Mean","year":1969.5,"value":0.0026},
      {"panel":"C","gas":"CFC-11","kind":"Annual Mean","year":1970.5,"value":0.0028},
      {"panel":"C","gas":"CFC-11","kind":"Annual Mean","year":1971.5,"value":0.0031},
      {"panel":"C","gas":"CFC-11","kind":"Annual Mean","year":1972.5,"value":0.0033},
      {"panel":"C","gas":"CFC-11","kind":"Annual Mean","year":1973.5,"value":0.0034},
      {"panel":"C","gas":"CFC-11","kind":"Annual Mean","year":1974.5,"value":0.0028},
      {"panel":"C","gas":"CFC-11","kind":"Annual Mean","year":1975.5,"value":0.0028},
      {"panel":"C","gas":"CFC-11","kind":"Annual Mean","year":1976.5,"value":0.0026},
      {"panel":"C","gas":"CFC-11","kind":"Annual Mean","year":1977.5,"value":0.0024},
      {"panel":"C","gas":"CFC-11","kind":"Annual Mean","year":1978.5,"value":0.0024},
      {"panel":"C","gas":"CFC-11","kind":"Annual Mean","year":1979.5,"value":0.0023},
      {"panel":"C","gas":"CFC-11","kind":"Annual Mean","year":1980.5,"value":0.0023},
      {"panel":"C","gas":"CFC-11","kind":"Annual Mean","year":1981.5,"value":0.0022},
      {"panel":"C","gas":"CFC-11","kind":"Annual Mean","year":1982.5,"value":0.0026},
      {"panel":"C","gas":"CFC-11","kind":"Annual Mean","year":1983.4,"value":0.0024},
      {"panel":"C","gas":"CFC-11","kind":"Annual Mean","year":1984.5,"value":0.0031},
      {"panel":"C","gas":"CFC-11","kind":"Annual Mean","year":1985.6,"value":0.0028},
      {"panel":"C","gas":"CFC-11","kind":"Annual Mean","year":1986.8,"value":0.0030},
      {"panel":"C","gas":"CFC-11","kind":"Annual Mean","year":1988.0,"value":0.0026},
      {"panel":"C","gas":"CFC-11","kind":"Annual Mean","year":1989.2,"value":0.0022},
      {"panel":"C","gas":"CFC-11","kind":"Annual Mean","year":1990.4,"value":0.0016},
      {"panel":"C","gas":"CFC-11","kind":"Annual Mean","year":1991.6,"value":0.00085},
      {"panel":"C","gas":"CFC-11","kind":"Annual Mean","year":1992.8,"value":0.00023},
      {"panel":"C","gas":"CFC-11","kind":"Annual Mean","year":1994.0,"value":-0.00012},
      {"panel":"C","gas":"CFC-11","kind":"Annual Mean","year":1995.2,"value":-0.0002},
      {"panel":"C","gas":"CFC-11","kind":"Annual Mean","year":1996.2,"value":-0.00035},
      {"panel":"C","gas":"CFC-11","kind":"Annual Mean","year":1997.1,"value":-0.00043},
      {"panel":"C","gas":"CFC-11","kind":"Annual Mean","year":1998.2,"value":-0.00043},
      {"panel":"C","gas":"CFC-11","kind":"5 Year Mean","year":1952.2,"value":0.00014},
      {"panel":"C","gas":"CFC-11","kind":"5 Year Mean","year":1954.9,"value":0.00027},
      {"panel":"C","gas":"CFC-11","kind":"5 Year Mean","year":1957.9,"value":0.00027},
      {"panel":"C","gas":"CFC-11","kind":"5 Year Mean","year":1958.8,"value":0.0003},
      {"panel":"C","gas":"CFC-11","kind":"5 Year Mean","year":1960.3,"value":0.00054},
      {"panel":"C","gas":"CFC-11","kind":"5 Year Mean","year":1961.5,"value":0.0008},
      {"panel":"C","gas":"CFC-11","kind":"5 Year Mean","year":1963.3,"value":0.0012},
      {"panel":"C","gas":"CFC-11","kind":"5 Year Mean","year":1964.8,"value":0.0014},
      {"panel":"C","gas":"CFC-11","kind":"5 Year Mean","year":1966.3,"value":0.0017},
      {"panel":"C","gas":"CFC-11","kind":"5 Year Mean","year":1968.1,"value":0.0021},
      {"panel":"C","gas":"CFC-11","kind":"5 Year Mean","year":1969.6,"value":0.0025},
      {"panel":"C","gas":"CFC-11","kind":"5 Year Mean","year":1971.1,"value":0.0029},
      {"panel":"C","gas":"CFC-11","kind":"5 Year Mean","year":1972.3,"value":0.0031},
      {"panel":"C","gas":"CFC-11","kind":"5 Year Mean","year":1973.8,"value":0.00315},
      {"panel":"C","gas":"CFC-11","kind":"5 Year Mean","year":1975.3,"value":0.0029},
      {"panel":"C","gas":"CFC-11","kind":"5 Year Mean","year":1976.8,"value":0.0026},
      {"panel":"C","gas":"CFC-11","kind":"5 Year Mean","year":1978.6,"value":0.0024},
      {"panel":"C","gas":"CFC-11","kind":"5 Year Mean","year":1980.1,"value":0.0023},
      {"panel":"C","gas":"CFC-11","kind":"5 Year Mean","year":1981.3,"value":0.00227},
      {"panel":"C","gas":"CFC-11","kind":"5 Year Mean","year":1982.8,"value":0.0025},
      {"panel":"C","gas":"CFC-11","kind":"5 Year Mean","year":1984.3,"value":0.00275},
      {"panel":"C","gas":"CFC-11","kind":"5 Year Mean","year":1986.1,"value":0.0029},
      {"panel":"C","gas":"CFC-11","kind":"5 Year Mean","year":1987.3,"value":0.00275},
      {"panel":"C","gas":"CFC-11","kind":"5 Year Mean","year":1988.5,"value":0.0024},
      {"panel":"C","gas":"CFC-11","kind":"5 Year Mean","year":1989.8,"value":0.0019},
      {"panel":"C","gas":"CFC-11","kind":"5 Year Mean","year":1991.0,"value":0.0013},
      {"panel":"C","gas":"CFC-11","kind":"5 Year Mean","year":1992.3,"value":0.00067},
      {"panel":"C","gas":"CFC-11","kind":"5 Year Mean","year":1993.4,"value":0.00014},
      {"panel":"C","gas":"CFC-11","kind":"5 Year Mean","year":1994.6,"value":-0.00012},
      {"panel":"C","gas":"CFC-11","kind":"5 Year Mean","year":1995.8,"value":-0.00026},
      {"panel":"C","gas":"CFC-11","kind":"5 Year Mean","year":1996.4,"value":-0.00035}
    ],
    "notes": [
      {"panel":"A","type":"letter","label":"A","year":1954.5,"value":0.0405},
      {"panel":"A","type":"gas","label":"CO₂","year":1964.5,"value":0.0334},
      {"panel":"B","type":"letter","label":"B","year":1954.6,"value":0.00715},
      {"panel":"B","type":"gas","label":"CH₄","year":1964.9,"value":0.00568},
      {"panel":"B","type":"gas","label":"N₂O","year":1962.4,"value":0.00275},
      {"panel":"C","type":"letter","label":"C","year":1954.6,"value":0.00713},
      {"panel":"C","type":"gas","label":"CFC-12","year":1962.8,"value":0.00477},
      {"panel":"C","type":"gas","label":"CFC-11","year":1975.7,"value":0.00178}
    ]
  },
  "resolve": {"scale": {"y": "independent", "color": "independent", "strokeDash": "independent"}, "legend": {"strokeDash": "independent", "color": "independent"}},
  "vconcat": [
    {
      "width": 555, "height": 340,
      "layer": [
        {
          "data": {"name": "series"},
          "transform": [{"filter": "datum.panel === 'A'"}],
          "mark": {"type": "line", "strokeWidth": 3},
          "encoding": {
            "x": {"field": "year", "type": "quantitative", "scale": {"domain": [1950, 2000], "nice": false, "zero": false},
                  "axis": {"orient": "bottom", "title": null, "values": [1950,1955,1960,1965,1970,1975,1980,1985,1990,1995,2000], "labelExpr": "datum.value % 10 === 0 ? format(datum.value, 'd') : ''", "labelPadding": 16, "labelFont": "DejaVu Serif"}},
            "y": {"field": "value", "type": "quantitative", "scale": {"domain": [0, 0.045], "nice": false, "zero": false},
                  "axis": {"orient": "left", "title": "ΔF (W/m²/year)", "values": [0,0.005,0.01,0.015,0.02,0.025,0.03,0.035,0.04], "labelExpr": "abs(datum.value*100 - round(datum.value*100)) < 0.01 ? replace(format(datum.value, '.2f'), '0.', '.') : ''", "labelPadding": 11, "titleX": -60, "titleBaseline": "middle", "labelFont": "DejaVu Serif", "titleFont": "DejaVu Serif"}},
            "color": {"field": "gas", "type": "nominal", "scale": {"domain": ["CO2","CH4","N2O","CFC-12","CFC-11"], "range": ["#f22a2a","#f22a2a","#3b5cc4","#3b5cc4","#f22a2a"]}, "legend": null},
            "strokeDash": {"field": "kind", "type": "nominal", "scale": {"domain": ["Annual Mean","5 Year Mean"], "range": [[4,3],[1,0]]},
                  "legend": {"title": null, "orient": "none", "legendX": 314, "legendY": 268, "symbolType": "M-2,0H2", "symbolSize": 550, "symbolStrokeWidth": 3, "symbolStrokeColor": "#f22a2a", "symbolFillColor": "transparent", "labelFont": "DejaVu Serif", "labelFontSize": 20, "labelColor": "black", "labelOffset": 14, "rowPadding": 1}}
          }
        },
        {
          "data": {"name": "notes"},
          "transform": [{"filter": "datum.panel === 'A'"}],
          "mark": {"type": "text", "font": "Liberation Serif", "color": "black"},
          "encoding": {
            "x": {"field": "year", "type": "quantitative", "scale": {"domain": [1950, 2000], "nice": false, "zero": false},
                  "axis": {"orient": "top", "title": null, "labels": false, "values": [1950,1955,1960,1965,1970,1975,1980,1985,1990,1995,2000]}},
            "y": {"field": "value", "type": "quantitative", "scale": {"domain": [0, 0.045], "nice": false, "zero": false},
                  "axis": {"orient": "right", "title": null, "labels": false, "values": [0,0.005,0.01,0.015,0.02,0.025,0.03,0.035,0.04]}},
            "text": {"field": "label"},
            "size": {"field": "type", "type": "nominal", "scale": {"domain": ["letter","gas"], "range": [30, 28]}, "legend": null}
          }
        }
      ],
      "resolve": {"axis": {"x": "independent", "y": "independent"}}
    },
    {
      "width": 555, "height": 337,
      "layer": [
        {
          "mark": {"type": "rule", "color": "black", "strokeWidth": 1.2},
          "encoding": {"y": {"datum": 0, "type": "quantitative", "scale": {"domain": [-0.001, 0.008], "nice": false, "zero": false}, "axis": null}}
        },
        {
          "data": {"name": "series"},
          "transform": [{"filter": "datum.panel === 'B'"}],
          "mark": {"type": "line", "strokeWidth": 3},
          "encoding": {
            "x": {"field": "year", "type": "quantitative", "scale": {"domain": [1950, 2000], "nice": false, "zero": false},
                  "axis": {"orient": "bottom", "title": null, "values": [1950,1955,1960,1965,1970,1975,1980,1985,1990,1995,2000], "labelExpr": "datum.value % 10 === 0 ? format(datum.value, 'd') : ''", "labelPadding": 11, "labelFont": "DejaVu Serif"}},
            "y": {"field": "value", "type": "quantitative", "scale": {"domain": [-0.001, 0.008], "nice": false, "zero": false},
                  "axis": {"orient": "left", "title": "ΔF (W/m²/year)", "values": [0,0.002,0.004,0.006,0.008], "labelExpr": "replace(format(datum.value, '.3f'), '0.', '.')", "labelPadding": 11, "titleX": -60, "titleBaseline": "middle", "labelFont": "DejaVu Serif", "titleFont": "DejaVu Serif"}},
            "color": {"field": "gas", "type": "nominal", "scale": {"domain": ["CO2","CH4","N2O","CFC-12","CFC-11"], "range": ["#f22a2a","#f22a2a","#3b5cc4","#3b5cc4","#f22a2a"]}, "legend": null},
            "strokeDash": {"field": "kind", "type": "nominal", "scale": {"domain": ["Annual Mean","5 Year Mean"], "range": [[4,3],[1,0]]}, "legend": null}
          }
        },
        {
          "data": {"name": "notes"},
          "transform": [{"filter": "datum.panel === 'B'"}],
          "mark": {"type": "text", "font": "Liberation Serif", "color": "black"},
          "encoding": {
            "x": {"field": "year", "type": "quantitative", "scale": {"domain": [1950, 2000], "nice": false, "zero": false},
                  "axis": {"orient": "top", "title": null, "labels": false, "values": [1950,1955,1960,1965,1970,1975,1980,1985,1990,1995,2000]}},
            "y": {"field": "value", "type": "quantitative", "scale": {"domain": [-0.001, 0.008], "nice": false, "zero": false},
                  "axis": {"orient": "right", "title": null, "labels": false, "values": [0,0.002,0.004,0.006,0.008]}},
            "text": {"field": "label"},
            "size": {"field": "type", "type": "nominal", "scale": {"domain": ["letter","gas"], "range": [30, 28]}, "legend": null}
          }
        }
      ],
      "resolve": {"axis": {"x": "independent", "y": "independent"}}
    },
    {
      "width": 555, "height": 339,
      "layer": [
        {
          "mark": {"type": "rule", "color": "#b5b5b5", "strokeWidth": 3},
          "encoding": {"y": {"datum": 0, "type": "quantitative", "scale": {"domain": [-0.001, 0.008], "nice": false, "zero": false}, "axis": null}}
        },
        {
          "data": {"name": "series"},
          "transform": [{"filter": "datum.panel === 'C'"}],
          "mark": {"type": "line", "strokeWidth": 3},
          "encoding": {
            "x": {"field": "year", "type": "quantitative", "scale": {"domain": [1950, 2000], "nice": false, "zero": false},
                  "axis": {"orient": "bottom", "title": null, "values": [1950,1955,1960,1965,1970,1975,1980,1985,1990,1995,2000], "labelExpr": "datum.value % 10 === 0 ? format(datum.value, 'd') : ''", "labelPadding": 11, "labelFont": "DejaVu Serif"}},
            "y": {"field": "value", "type": "quantitative", "scale": {"domain": [-0.001, 0.008], "nice": false, "zero": false},
                  "axis": {"orient": "left", "title": "ΔF (W/m²/year)", "values": [0,0.002,0.004,0.006,0.008], "labelExpr": "replace(format(datum.value, '.3f'), '0.', '.')", "labelPadding": 11, "titleX": -60, "titleBaseline": "middle", "labelFont": "DejaVu Serif", "titleFont": "DejaVu Serif"}},
            "color": {"field": "gas", "type": "nominal", "scale": {"domain": ["CO2","CH4","N2O","CFC-12","CFC-11"], "range": ["#f22a2a","#f22a2a","#3b5cc4","#3b5cc4","#f22a2a"]}, "legend": null},
            "strokeDash": {"field": "kind", "type": "nominal", "scale": {"domain": ["Annual Mean","5 Year Mean"], "range": [[4,3],[1,0]]}, "legend": null}
          }
        },
        {
          "data": {"name": "notes"},
          "transform": [{"filter": "datum.panel === 'C'"}],
          "mark": {"type": "text", "font": "Liberation Serif", "color": "black"},
          "encoding": {
            "x": {"field": "year", "type": "quantitative", "scale": {"domain": [1950, 2000], "nice": false, "zero": false},
                  "axis": {"orient": "top", "title": null, "labels": false, "values": [1950,1955,1960,1965,1970,1975,1980,1985,1990,1995,2000]}},
            "y": {"field": "value", "type": "quantitative", "scale": {"domain": [-0.001, 0.008], "nice": false, "zero": false},
                  "axis": {"orient": "right", "title": null, "labels": false, "values": [0,0.002,0.004,0.006,0.008]}},
            "text": {"field": "label"},
            "size": {"field": "type", "type": "nominal", "scale": {"domain": ["letter","gas"], "range": [30, 28]}, "legend": null}
          }
        }
      ],
      "resolve": {"axis": {"x": "independent", "y": "independent"}}
    }
  ]
}
